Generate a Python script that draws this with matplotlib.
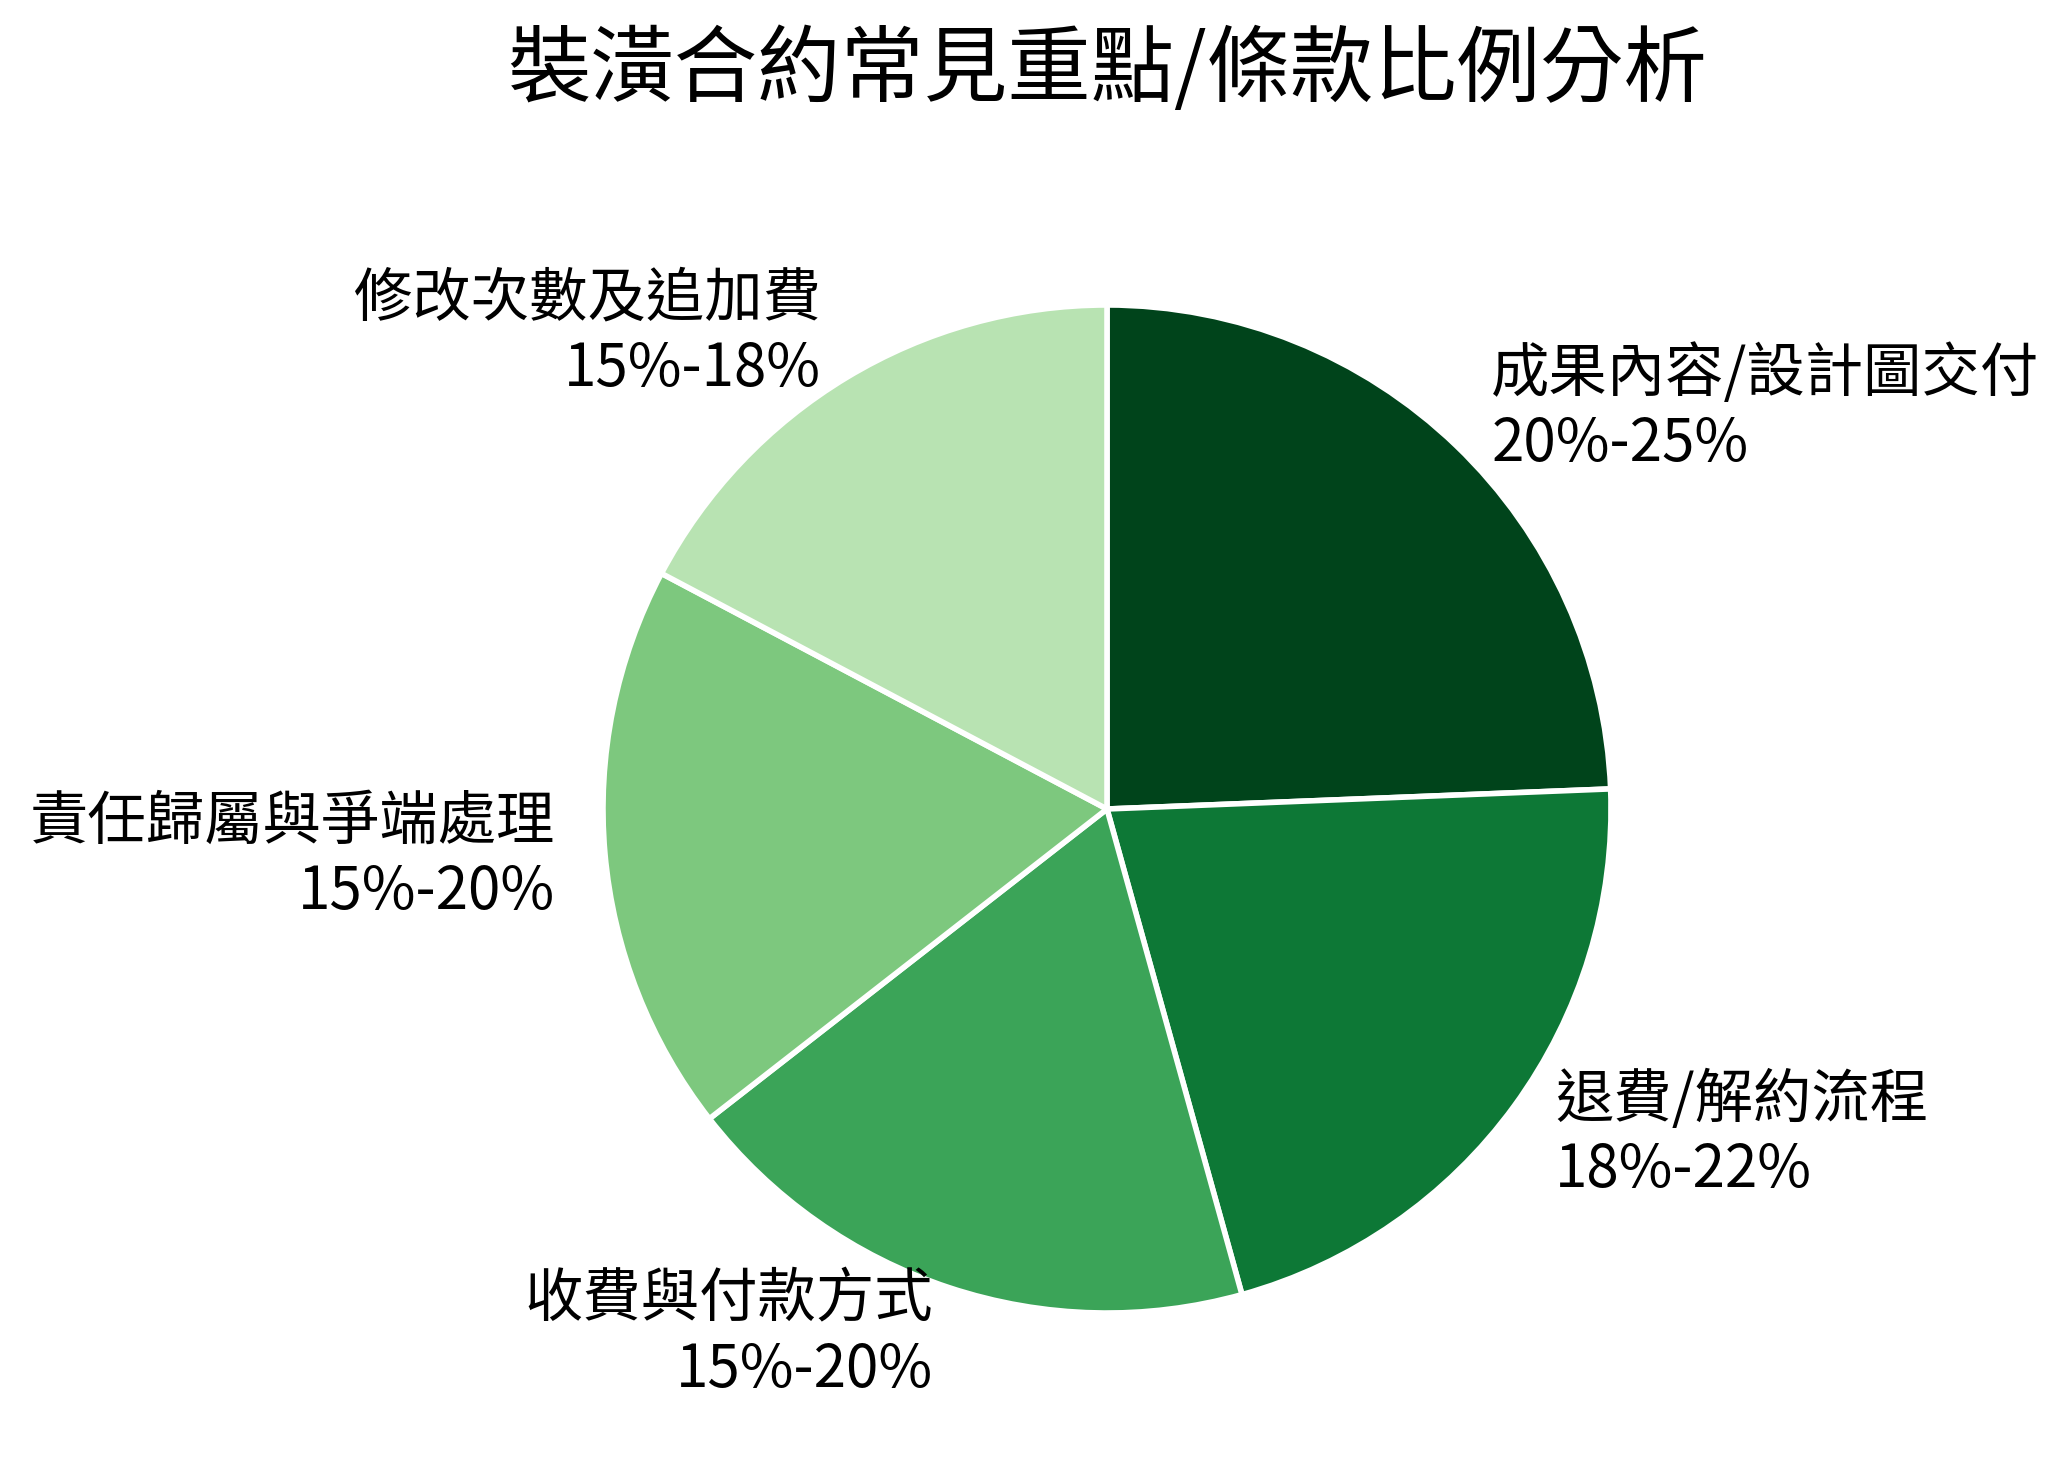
import numpy as np
import matplotlib
matplotlib.use("Agg")
import matplotlib.pyplot as plt

plt.rcParams['font.family'] = ['Noto Sans CJK TC', 'DejaVu Sans']

TITLE = "裝潢合約常見重點/條款比例分析"
categories = ["成果內容/設計圖交付", "退費/解約流程", "收費與付款方式",
              "責任歸屬與爭端處理", "修改次數及追加費"]
ranges = ["20%-25%", "18%-22%", "15%-20%", "15%-20%", "15%-18%"]
# slice sizes
values = [24, 21, 18.5, 18, 17]

colors = plt.cm.Greens(np.linspace(1.0, 0.3, len(values)))
labels = [f"{c}\n{r}" for c, r in zip(categories, ranges)]

W, H, DPI = 2066, 1468, 200
fig = plt.figure(figsize=(W / DPI, H / DPI), dpi=DPI)

# pie centre and radius in pixels, axes box is 2.5 * radius square
cx, cy, r = 1107, 809, 504
side = 2.5 * r
ax = fig.add_axes([(cx - side / 2) / W, (H - cy - side / 2) / H, side / W, side / H])

ax.pie(values, labels=labels, colors=colors, startangle=90, counterclock=False,
       labeldistance=1.1,
       wedgeprops=dict(edgecolor="white", linewidth=2),
       textprops=dict(fontsize=21, color="black"))
ax.set_aspect("equal")

fig.text(cx / W, 1 - 71 / H, TITLE, ha="center", va="center", fontsize=30)

fig.savefig("out.png", dpi=DPI)
